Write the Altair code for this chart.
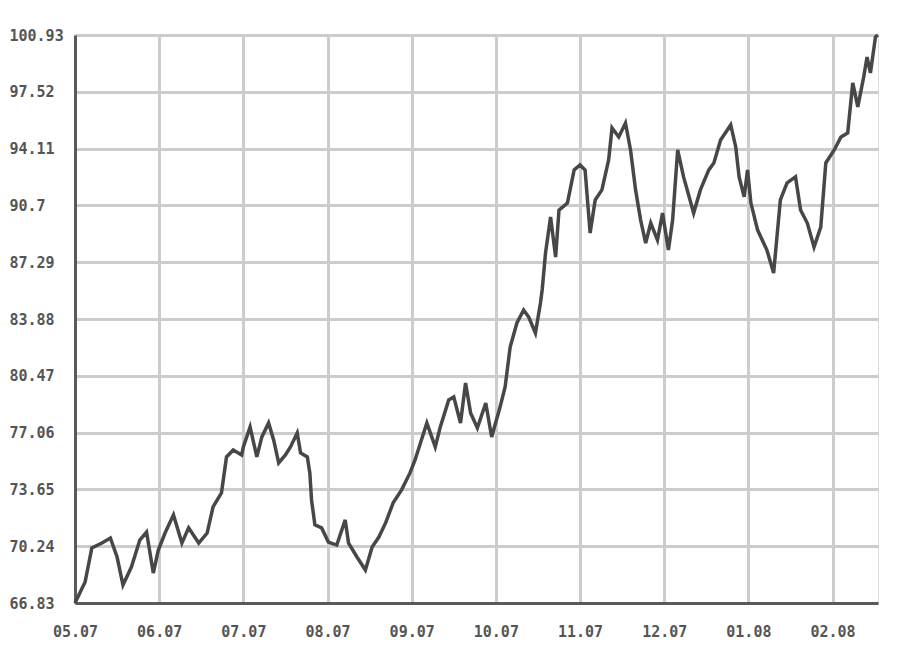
import altair as alt
import pandas as pd

# month index (0 = 05.07) and price values
month_pos = [0.00, 0.12, 0.20, 0.32, 0.42, 0.50, 0.57, 0.67, 0.77, 0.85,
             0.93, 0.99, 1.07, 1.17, 1.27, 1.35, 1.47, 1.57, 1.64, 1.74,
             1.80, 1.88, 1.98, 2.00, 2.08, 2.16, 2.22, 2.30, 2.36, 2.42,
             2.50, 2.56, 2.64, 2.68, 2.76, 2.79, 2.81, 2.85, 2.93, 3.01,
             3.11, 3.21, 3.25, 3.35, 3.45, 3.53, 3.61, 3.69, 3.78, 3.88,
             3.98, 4.04, 4.18, 4.28, 4.34, 4.44, 4.50, 4.58, 4.64, 4.70,
             4.78, 4.88, 4.95, 5.05, 5.11, 5.17, 5.25, 5.33, 5.39, 5.47,
             5.53, 5.55, 5.59, 5.65, 5.71, 5.75, 5.85, 5.93, 6.00, 6.06,
             6.12, 6.18, 6.26, 6.34, 6.38, 6.46, 6.54, 6.60, 6.66, 6.72,
             6.78, 6.84, 6.92, 6.98, 7.05, 7.10, 7.16, 7.23, 7.35, 7.43,
             7.53, 7.59, 7.67, 7.79, 7.85, 7.89, 7.95, 7.99, 8.03, 8.11,
             8.22, 8.30, 8.38, 8.46, 8.56, 8.62, 8.70, 8.78, 8.86, 8.92,
             9.02, 9.10, 9.18, 9.24, 9.30, 9.37, 9.41, 9.45, 9.51, 9.54]

prices = [66.83, 68.09, 70.13, 70.43, 70.73, 69.59, 67.91, 68.99, 70.61, 71.09,
          68.63, 70.01, 71.03, 72.12, 70.43, 71.34, 70.43, 71.03, 72.60, 73.44,
          75.60, 76.02, 75.72, 76.20, 77.40, 75.60, 76.80, 77.64, 76.62, 75.24,
          75.72, 76.20, 77.04, 75.84, 75.60, 74.64, 73.02, 71.52, 71.34, 70.49,
          70.31, 71.82, 70.43, 69.59, 68.81, 70.19, 70.79, 71.64, 72.84, 73.62,
          74.64, 75.42, 77.64, 76.20, 77.40, 79.02, 79.20, 77.64, 80.04, 78.24,
          77.34, 78.84, 76.80, 78.60, 79.80, 82.20, 83.64, 84.42, 84.00, 83.04,
          84.84, 85.62, 87.84, 90.00, 87.60, 90.42, 90.84, 92.83, 93.13, 92.83,
          89.04, 91.03, 91.63, 93.43, 95.35, 94.81, 95.65, 94.03, 91.63, 89.82,
          88.44, 89.64, 88.62, 90.24, 88.02, 89.82, 94.03, 92.41, 90.24, 91.63,
          92.83, 93.25, 94.63, 95.53, 94.21, 92.41, 91.21, 92.83, 90.84, 89.22,
          88.02, 86.64, 91.03, 92.05, 92.41, 90.42, 89.64, 88.20, 89.40, 93.25,
          94.03, 94.81, 95.05, 98.05, 96.61, 98.41, 99.61, 98.65, 100.81, 100.93]

month_labels = ["05.07", "06.07", "07.07", "08.07", "09.07",
                "10.07", "11.07", "12.07", "01.08", "02.08"]

y_ticks = [66.83, 70.24, 73.65, 77.06, 80.47, 83.88, 87.29, 90.7, 94.11, 97.52, 100.93]

df = pd.DataFrame({"m": month_pos, "price": prices})

label_array = "[" + ",".join("'%s'" % s for s in month_labels) + "]"

FONT = "DejaVu Sans Mono"

chart = alt.Chart(df).mark_line(color="#474747", strokeWidth=3.5, strokeJoin="miter").encode(
    x=alt.X("m:Q",
            scale=alt.Scale(domain=[0, 9.54], nice=False, zero=False),
            axis=alt.Axis(values=list(range(len(month_labels))),
                          labelExpr=label_array + "[datum.value]",
                          title=None, ticks=False, tickSize=0,
                          labelPadding=21, labelBaseline="top",
                          labelFont=FONT, labelFontSize=15, labelFontWeight="bold",
                          labelColor="#555555", labelOverlap=False, labelBound=False,
                          labelFlush=False,
                          grid=True, gridColor="#cccccc", gridWidth=3,
                          domainColor="#5a5a5a", domainWidth=3)),
    y=alt.Y("price:Q",
            scale=alt.Scale(domain=[66.83, 100.93], nice=False, zero=False),
            axis=alt.Axis(values=y_ticks,
                          labelExpr="'' + datum.value",
                          title=None, ticks=False, tickSize=0,
                          labelPadding=66, labelAlign="left",
                          labelFont=FONT, labelFontSize=15, labelFontWeight="bold",
                          labelColor="#555555", labelOverlap=False, labelBound=False,
                          labelFlush=False,
                          grid=True, gridColor="#cccccc", gridWidth=3,
                          domainColor="#5a5a5a", domainWidth=3)),
).properties(
    width=803, height=568,
    autosize=alt.AutoSizeParams(type="none"),
    padding={"left": 67, "top": 27, "right": 14, "bottom": 50},
).configure_view(
    stroke="#666666", strokeWidth=3
).configure(background="white")

chart.save("out.html", embed_options={"renderer": "svg", "actions": False})
